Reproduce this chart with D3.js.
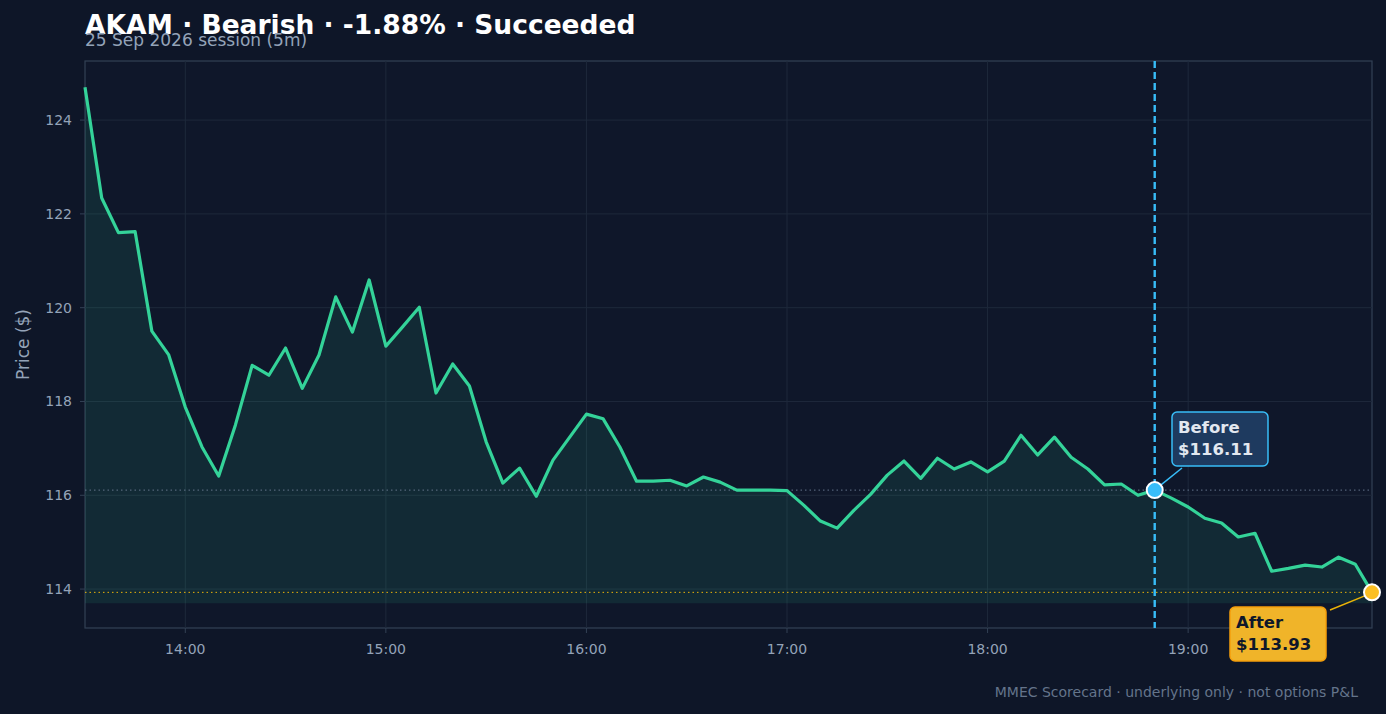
<!DOCTYPE html>
<html><head><meta charset="utf-8">
<script src="https://cdn.jsdelivr.net/npm/d3@7"></script>
<style>
body{margin:0;background:#0e1628;font-family:"DejaVu Sans",sans-serif;}
</style></head>
<body><svg id="chart" width="1386" height="714"></svg>
<script>
const START = "13:30";
const STEP_MIN = 5;
const prices = [124.7,122.34,121.6,121.62,119.5,119.0,117.88,117.03,116.41,117.5,
  118.77,118.56,119.14,118.28,118.99,120.23,119.48,120.59,119.18,119.59,
  120.01,118.18,118.8,118.33,117.14,116.26,116.58,115.98,116.75,117.24,
  117.73,117.63,117.03,116.3,116.3,116.32,116.2,116.39,116.28,116.11,
  116.11,116.11,116.1,115.79,115.45,115.3,115.68,116.02,116.43,116.73,
  116.36,116.79,116.56,116.71,116.5,116.73,117.28,116.86,117.24,116.81,
  116.56,116.22,116.24,116.0,116.11,115.94,115.75,115.51,115.41,115.11,
  115.19,114.38,114.44,114.51,114.47,114.68,114.53,113.93];
const xTicks = ["14:00","15:00","16:00","17:00","18:00","19:00"];
const yTicks = [114,116,118,120,122,124];
const beforeIdx = 64, beforePrice = 116.11, afterPrice = 113.93;

const svg = d3.select("#chart");
const W = 1386, H = 714;
const m = {l:85, r:14, t:61, b:86};
const toMin = s => { const [h,mm] = s.split(":").map(Number); return h*60+mm; };
const t0 = toMin(START);
const data = prices.map((p,i)=>({t:t0+i*STEP_MIN, p}));

const x = d3.scaleLinear().domain([t0, t0+(prices.length-1)*STEP_MIN]).range([m.l, W-m.r]);
const y = d3.scaleLinear().domain([113.17,125.26]).range([H-m.b, m.t]);

svg.append("rect").attr("width",W).attr("height",H).attr("fill","#0e1628");
svg.append("rect").attr("x",m.l).attr("y",m.t).attr("width",W-m.l-m.r).attr("height",H-m.t-m.b)
  .attr("fill","#0f172a").attr("stroke","#334155").attr("stroke-width",1.2);

const grid = svg.append("g").attr("stroke","#1e293b").attr("stroke-width",1);
xTicks.forEach(s=>grid.append("line").attr("x1",x(toMin(s))).attr("x2",x(toMin(s))).attr("y1",m.t).attr("y2",H-m.b));
yTicks.forEach(v=>grid.append("line").attr("x1",m.l).attr("x2",W-m.r).attr("y1",y(v)).attr("y2",y(v)));

const base = d3.min(prices) - 0.23;
svg.append("path").datum(data).attr("fill","#34d399").attr("fill-opacity",0.1)
  .attr("d", d3.area().x(d=>x(d.t)).y0(y(base)).y1(d=>y(d.p)));

svg.append("line").attr("x1",m.l).attr("x2",W-m.r).attr("y1",y(beforePrice)).attr("y2",y(beforePrice))
  .attr("stroke","#64748b").attr("stroke-dasharray","1.5,3");
svg.append("line").attr("x1",m.l).attr("x2",W-m.r).attr("y1",y(afterPrice)).attr("y2",y(afterPrice))
  .attr("stroke","#eab308").attr("stroke-dasharray","1.5,3");

const bx = x(data[beforeIdx].t);
svg.append("line").attr("x1",bx).attr("x2",bx).attr("y1",m.t).attr("y2",H-m.b)
  .attr("stroke","#38bdf8").attr("stroke-width",2.4).attr("stroke-dasharray","7,4");

svg.append("path").datum(data).attr("fill","none").attr("stroke","#34d399").attr("stroke-width",3.2)
  .attr("stroke-linejoin","round")
  .attr("d", d3.line().x(d=>x(d.t)).y(d=>y(d.p)));

// axes
const ax = svg.append("g").attr("fill","#94a3b8").attr("font-size",14);
xTicks.forEach(s=>{
  ax.append("line").attr("x1",x(toMin(s))).attr("x2",x(toMin(s))).attr("y1",H-m.b).attr("y2",H-m.b+5).attr("stroke","#334155");
  ax.append("text").attr("x",x(toMin(s))).attr("y",H-m.b+26).attr("text-anchor","middle").text(s);
});
yTicks.forEach(v=>{
  ax.append("line").attr("x1",m.l-5).attr("x2",m.l).attr("y1",y(v)).attr("y2",y(v)).attr("stroke","#334155");
  ax.append("text").attr("x",m.l-13).attr("y",y(v)+5).attr("text-anchor","end").text(v);
});
svg.append("text").attr("transform",`translate(29,${(m.t+H-m.b)/2}) rotate(-90)`).attr("text-anchor","middle")
  .attr("fill","#94a3b8").attr("font-size",17).text("Price ($)");

// annotations
const ax1 = x(data[beforeIdx].t), ay1 = y(beforePrice);
const ax2 = x(data[data.length-1].t), ay2 = y(afterPrice);
svg.append("line").attr("x1",1182).attr("y1",468).attr("x2",ax1+6).attr("y2",ay1-5).attr("stroke","#38bdf8").attr("stroke-width",1.5);
svg.append("line").attr("x1",1330).attr("y1",610).attr("x2",ax2-6).attr("y2",ay2+3).attr("stroke","#eab308").attr("stroke-width",1.5);

svg.append("circle").attr("cx",ax1).attr("cy",ay1).attr("r",8).attr("fill","#38bdf8").attr("stroke","#fff").attr("stroke-width",2);
svg.append("circle").attr("cx",ax2).attr("cy",ay2).attr("r",8).attr("fill","#fbbf24").attr("stroke","#fff").attr("stroke-width",2);

function label(x0,y0,lines,fill,stroke,color){
  svg.append("rect").attr("x",x0).attr("y",y0).attr("width",96).attr("height",54).attr("rx",5)
    .attr("fill",fill).attr("stroke",stroke).attr("stroke-width",1.5);
  lines.forEach((l,i)=>svg.append("text").attr("x",x0+6).attr("y",y0+21+i*22)
    .attr("fill",color).attr("font-size",16.5).attr("font-weight","bold").text(l));
}
label(1172,412,["Before","$116.11"],"#1e3a5f","#38bdf8","#e2e8f0");
label(1230,607,["After","$113.93"],"#f0b429","#f59e0b","#0f172a");

svg.append("text").attr("x",85).attr("y",34).attr("fill","#fff").attr("font-size",26.5).attr("font-weight","bold")
  .text("AKAM · Bearish · -1.88% · Succeeded");
svg.append("text").attr("x",85).attr("y",46).attr("fill","#94a3b8").attr("font-size",17).text("25 Sep 2026 session (5m)");
svg.append("text").attr("x",1358).attr("y",697).attr("text-anchor","end").attr("fill","#64748b").attr("font-size",14)
  .text("MMEC Scorecard · underlying only · not options P&L");
</script></body></html>
